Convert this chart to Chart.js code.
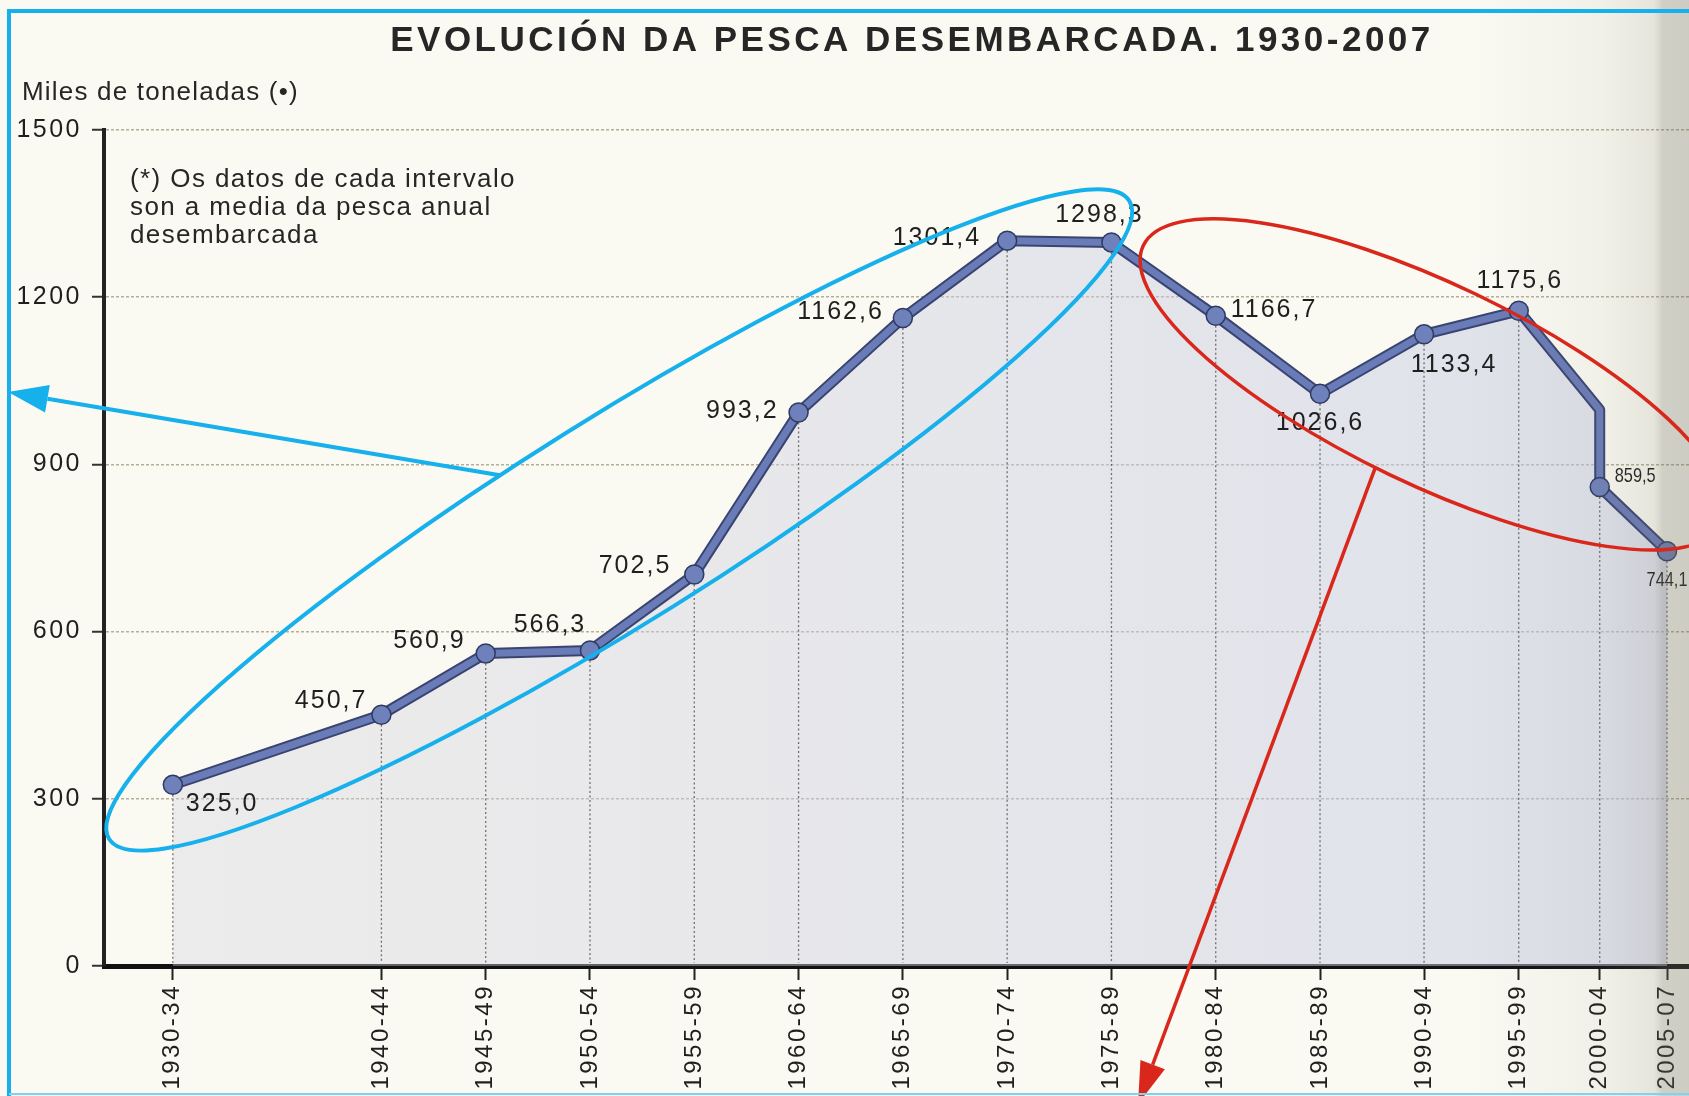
<!DOCTYPE html>
<html lang="gl">
<head>
<meta charset="utf-8">
<title>Evolución da pesca desembarcada. 1930-2007</title>
<script src="https://cdn.jsdelivr.net/npm/chart.js@4.4.0/dist/chart.umd.min.js"></script>
<style>
  html, body { margin: 0; padding: 0; background: #fbfaf2; }
  #wrap { width: 1689px; height: 1096px; }
</style>
</head>
<body>
<div id="wrap"><canvas id="chart" width="1689" height="1096"></canvas></div>
<script>
// --- data (thousand tonnes, mean per interval) ---
const periods = ['1930-34', '1940-44', '1945-49', '1950-54', '1955-59', '1960-64', '1965-69', '1970-74',
                 '1975-89', '1980-84', '1985-89', '1990-94', '1995-99', '2000-04', '2005-07'];
const periodStart = [1930, 1940, 1945, 1950, 1955, 1960, 1965, 1970, 1975, 1980, 1985, 1990, 1995, 2000, 2005];
const catchValues = [325.0, 450.7, 560.9, 566.3, 702.5, 993.2, 1162.6, 1301.4, 1298.3, 1166.7, 1026.6, 1133.4, 1175.6, 859.5, 744.1];
const yTicks = [0, 300, 600, 900, 1200, 1500];
// the printed line bends above the 2000-04 point and then drops straight down
const kinkYear = 2000;
const kinkValue = 998;

const TITLE = 'EVOLUCIÓN DA PESCA DESEMBARCADA. 1930-2007';
const Y_CAPTION = 'Miles de toneladas (•)';
const NOTE = ['(*) Os datos de cada intervalo', 'son a media da pesca anual', 'desembarcada'];

// x axis range, and the squeeze of the scan near the book's gutter
const X_MIN = 1926.7, X_MAX = 2006.9;
const CURL_FROM = 1989, CURL_GAIN = 1.0554;

const FONT = '"Liberation Sans", Arial, sans-serif';
const INK = '#1f1f1f';

// label placement around each point: [align, dx, dy]
const labelPlacement = [
  ['left', 13, 19], ['right', -14, -14], ['right', -20, -12], ['center', -40, -25], ['right', -23, -8],
  ['right', -20, -1], ['right', -19, -6], ['right', -26, -3], ['center', -12, -27], ['left', 15, -6],
  ['center', 0, 29], ['center', 30, 31], ['center', 1, -30], ['left', 15, -11], ['center', 0, 29]
];
const smallLabels = [13, 14];

// linear scale whose right end is compressed like the curved page
class CurlScale extends Chart.LinearScale {
  getPixelForDecimal(decimal) {
    const d0 = (CURL_FROM - X_MIN) / (X_MAX - X_MIN);
    const k = (CURL_GAIN - 1) / Math.pow(1 - d0, 2);
    const c = Math.max(0, decimal - d0);
    return super.getPixelForDecimal(CURL_GAIN * decimal - k * c * c);
  }
}
CurlScale.id = 'curl';
CurlScale.defaults = Chart.LinearScale.defaults;
Chart.register(CurlScale);

const kinkIndex = periodStart.indexOf(kinkYear);
const linePoints = periodStart.map((x, i) => ({ x: x, y: catchValues[i] }));
linePoints.splice(kinkIndex, 0, { x: kinkYear, y: kinkValue });

function metaIndex(i) { return i < kinkIndex ? i : i + 1; }
function fmt(v) { return v.toFixed(1).replace('.', ','); }

function ringAround(pA, pB, shift, lift, stretch, b, turn) {
  const dx = pB.x - pA.x, dy = pB.y - pA.y;
  const len = Math.hypot(dx, dy);
  const ux = dx / len, uy = dy / len, nx = -uy, ny = ux;
  return {
    cx: (pA.x + pB.x) / 2 + ux * shift + nx * lift,
    cy: (pA.y + pB.y) / 2 + uy * shift + ny * lift,
    a: len * stretch, b: b, rot: Math.atan2(dy, dx) + turn
  };
}
function ringPoint(r, t) {
  const ca = Math.cos(r.rot), sa = Math.sin(r.rot);
  const u = r.a * Math.cos(t), v = r.b * Math.sin(t);
  return { x: r.cx + u * ca - v * sa, y: r.cy + u * sa + v * ca };
}
function drawArrow(ctx, x1, y1, x2, y2, color, width, headLen, headHalf) {
  const ang = Math.atan2(y2 - y1, x2 - x1);
  const bx = x2 - headLen * Math.cos(ang), by = y2 - headLen * Math.sin(ang);
  ctx.strokeStyle = color;
  ctx.lineWidth = width;
  ctx.beginPath(); ctx.moveTo(x1, y1); ctx.lineTo(bx, by); ctx.stroke();
  ctx.fillStyle = color;
  ctx.beginPath();
  ctx.moveTo(x2, y2);
  ctx.lineTo(bx + headHalf * Math.sin(ang), by - headHalf * Math.cos(ang));
  ctx.lineTo(bx - headHalf * Math.sin(ang), by + headHalf * Math.cos(ang));
  ctx.closePath(); ctx.fill();
}

const paperPlugin = {
  id: 'paper',
  beforeDraw(chart) {
    const ctx = chart.ctx;
    ctx.save();
    ctx.fillStyle = '#fbfaf2';
    ctx.fillRect(0, 0, chart.width, chart.height);
    ctx.restore();
    ctx.letterSpacing = '2.5px';   // the book sets its figures with wide tracking
  },
  beforeDatasetsDraw(chart) {
    chart.ctx.letterSpacing = '0px';
  }
};

const printPlugin = {
  id: 'print',
  afterDatasetsDraw(chart) {
    const ctx = chart.ctx;
    const meta = chart.getDatasetMeta(0);
    const bottom = chart.chartArea.bottom;
    ctx.save();
    // dotted drop lines under every point
    ctx.strokeStyle = 'rgba(60,60,60,0.7)';
    ctx.lineWidth = 1.3;
    ctx.setLineDash([2, 2.5]);
    catchValues.forEach((v, i) => {
      const el = meta.data[metaIndex(i)];
      ctx.beginPath(); ctx.moveTo(el.x, el.y + 10); ctx.lineTo(el.x, bottom - 3); ctx.stroke();
    });
    ctx.setLineDash([]);
    // value labels
    ctx.fillStyle = INK;
    ctx.textBaseline = 'middle';
    catchValues.forEach((v, i) => {
      const el = meta.data[metaIndex(i)];
      const [align, dx, dy] = labelPlacement[i];
      ctx.textAlign = align;
      if (smallLabels.includes(i)) {
        ctx.save();
        ctx.translate(el.x + dx, el.y + dy);
        ctx.scale(0.78, 1);
        ctx.font = '21px ' + FONT;
        ctx.letterSpacing = '0px';
        ctx.fillText(fmt(v), 0, 0);
        ctx.restore();
      } else {
        ctx.font = '25px ' + FONT;
        ctx.letterSpacing = '2px';
        ctx.fillText(fmt(v), el.x + dx, el.y + dy);
      }
    });
    ctx.restore();
    ctx.letterSpacing = '0px';
  },
  afterDraw(chart) {
    const ctx = chart.ctx;
    const area = chart.chartArea;
    const W = chart.width, H = chart.height;
    ctx.save();
    // headings
    ctx.fillStyle = '#262626';
    ctx.textBaseline = 'alphabetic';
    ctx.textAlign = 'center';
    ctx.font = 'bold 35px ' + FONT;
    ctx.letterSpacing = '3.5px';
    ctx.fillText(TITLE, 912, 51);
    ctx.textAlign = 'left';
    ctx.font = '26px ' + FONT;
    ctx.letterSpacing = '1.2px';
    ctx.fillText(Y_CAPTION, 22, 100);
    ctx.font = '26px ' + FONT;
    ctx.letterSpacing = '1.4px';
    NOTE.forEach((line, i) => ctx.fillText(line, area.left + 26, area.top + 57 + i * 28));
    ctx.letterSpacing = '0px';

    // shading of the book's gutter on the right
    const g = ctx.createLinearGradient(1470, 0, W, 0);
    g.addColorStop(0, 'rgba(120,118,104,0)');
    g.addColorStop(0.6, 'rgba(120,118,104,0.07)');
    g.addColorStop(0.84, 'rgba(120,118,104,0.16)');
    g.addColorStop(0.88, 'rgba(110,108,96,0.3)');
    g.addColorStop(1, 'rgba(110,108,96,0.32)');
    ctx.fillStyle = g;
    ctx.fillRect(1470, 0, W - 1470, H);

    // hand-drawn marks over the scan
    const meta = chart.getDatasetMeta(0);
    const p0 = meta.data[metaIndex(0)], p8 = meta.data[metaIndex(8)], p14 = meta.data[metaIndex(14)];
    const blue = '#16b0ec', red = '#d9271b';
    const blueRing = ringAround(p0, p8, -23, -6, 0.555, 102, -0.035);
    const redRing = ringAround(p8, p14, 32, -32, 0.505, 100, -0.06);
    ctx.lineWidth = 4;
    ctx.strokeStyle = blue;
    ctx.beginPath();
    ctx.ellipse(blueRing.cx, blueRing.cy, blueRing.a, blueRing.b, blueRing.rot, 0, Math.PI * 2);
    ctx.stroke();
    ctx.lineWidth = 3.5;
    ctx.strokeStyle = red;
    ctx.beginPath();
    ctx.ellipse(redRing.cx, redRing.cy, redRing.a, redRing.b, redRing.rot, 0, Math.PI * 2);
    ctx.stroke();
    const bs = ringPoint(blueRing, -1.70);
    drawArrow(ctx, bs.x, bs.y, 8, 392, blue, 4, 40, 14);
    const rs = ringPoint(redRing, 1.62);
    drawArrow(ctx, rs.x, rs.y, 1138, 1104, red, 3.5, 42, 13);

    // frame
    ctx.strokeStyle = blue;
    ctx.lineWidth = 4;
    ctx.beginPath();
    ctx.moveTo(9, H); ctx.lineTo(9, 11); ctx.lineTo(W, 11);
    ctx.stroke();
    ctx.lineWidth = 2;
    ctx.strokeStyle = '#7fd2f2';
    ctx.beginPath(); ctx.moveTo(9, 1094); ctx.lineTo(W, 1094); ctx.stroke();
    ctx.restore();
  }
};

const ctx = document.getElementById('chart').getContext('2d');
new Chart(ctx, {
  type: 'line',
  data: {
    datasets: [
      {
        data: linePoints,
        borderColor: '#6a7cb7',
        borderWidth: 7,
        borderJoinStyle: 'round',
        pointRadius: (c) => (c.dataIndex === kinkIndex ? 0 : 9.5),
        pointBackgroundColor: '#6f81ba',
        pointBorderColor: '#2f3a62',
        pointBorderWidth: 1.5,
        fill: false,
        tension: 0
      },
      {
        // darker edge of the printed line, and the tint below it
        data: linePoints,
        borderColor: '#3a4472',
        borderWidth: 11,
        borderJoinStyle: 'round',
        pointRadius: 0,
        tension: 0,
        fill: 'origin',
        backgroundColor: (c) => {
          const a = c.chart.chartArea;
          if (!a) return 'rgba(205,207,226,0.4)';
          const g = c.chart.ctx.createLinearGradient(a.left, 0, a.right, 0);
          g.addColorStop(0, 'rgba(214,213,224,0.38)');
          g.addColorStop(1, 'rgba(196,202,228,0.52)');
          return g;
        }
      }
    ]
  },
  options: {
    responsive: false,
    animation: false,
    events: [],
    layout: { autoPadding: false, padding: { top: 130, left: 0, right: 0, bottom: 0 } },
    plugins: {
      legend: { display: false },
      tooltip: { enabled: false }
    },
    scales: {
      x: {
        type: 'curl',
        min: X_MIN,
        max: X_MAX,
        afterBuildTicks: (scale) => { scale.ticks = periodStart.map((v) => ({ value: v })); },
        afterFit: (scale) => { scale.height = 130; scale.paddingLeft = 0; scale.paddingRight = 0; },
        ticks: {
          autoSkip: false,
          minRotation: 90,
          maxRotation: 90,
          padding: 4,
          color: INK,
          font: { family: FONT, size: 24 },
          callback: (value, index) => periods[index]
        },
        grid: {
          drawOnChartArea: false,
          drawTicks: true,
          tickLength: 14,
          tickWidth: 2,
          tickColor: '#222'
        },
        border: { display: true, width: 5, color: '#111' }
      },
      y: {
        min: 0,
        max: 1500,
        afterBuildTicks: (scale) => { scale.ticks = yTicks.map((v) => ({ value: v })); },
        afterFit: (scale) => { scale.width = 104; },
        ticks: {
          padding: 10,
          color: INK,
          font: { family: FONT, size: 25 },
          callback: (value) => String(value)
        },
        grid: {
          color: '#b5af99',
          lineWidth: 1.5,
          drawTicks: true,
          tickLength: 12,
          tickWidth: 2,
          tickColor: '#333',
          tickBorderDash: []
        },
        border: { display: true, width: 4, color: '#222', dash: [3, 2] }
      }
    }
  },
  plugins: [paperPlugin, printPlugin]
});
</script>
</body>
</html>
